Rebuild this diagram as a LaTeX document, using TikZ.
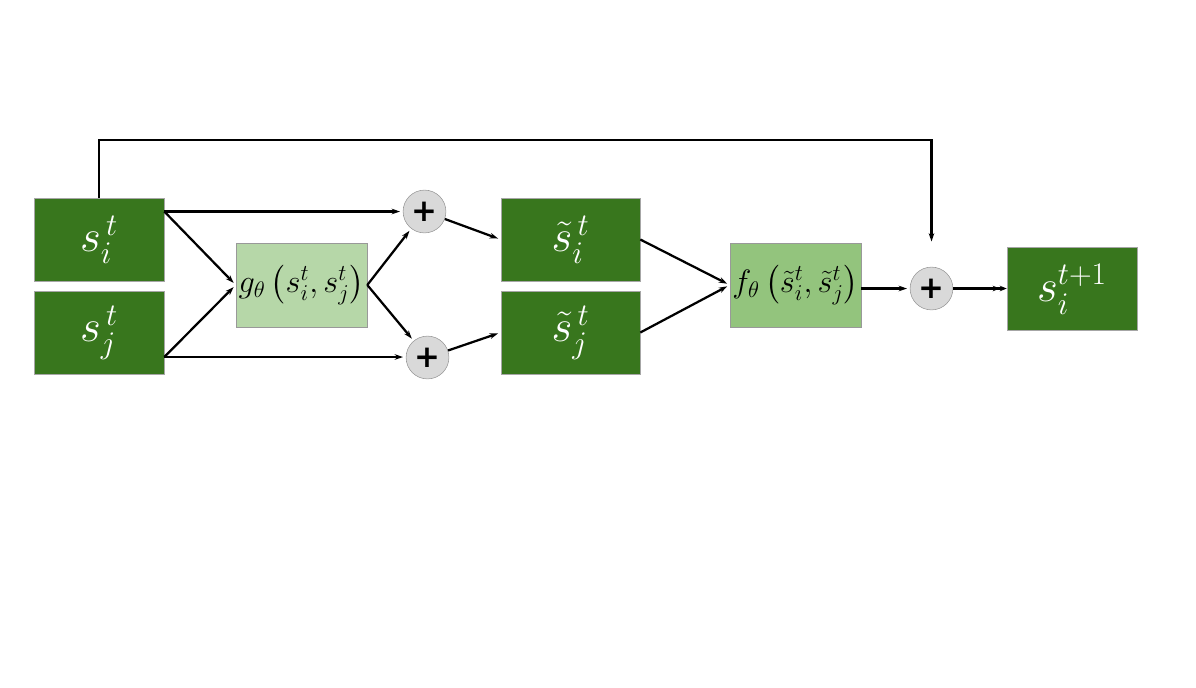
\RequirePackage{fix-cm}
\documentclass[tikz,border=0pt]{standalone}
\usepackage{amsmath,amssymb}
\usepackage{fontspec}
\newfontfamily\plusfont{DejaVu Sans}
\usepackage{tikz}
\usetikzlibrary{arrows.meta,positioning,calc}
\definecolor{stategreen}{HTML}{38761D}
\definecolor{gboxgreen}{HTML}{B6D7A8}
\definecolor{fboxgreen}{HTML}{93C47D}
\definecolor{sumgray}{HTML}{D9D9D9}

\begin{document}
\begin{tikzpicture}[
  x=0.025cm, y=-0.025cm,
  statebox/.style={draw=gray!70, fill=stategreen, text=white, minimum width=3.25cm, minimum height=2.075cm, inner sep=0pt, font=\fontsize{32}{36}\selectfont},
  netbox/.style={draw=gray!80, minimum width=3.275cm, minimum height=2.1cm, inner sep=0pt, font=\fontsize{23}{26}\selectfont},
  sumnode/.style={circle, draw=gray!80, fill=sumgray, minimum size=1.07cm, inner sep=0pt, font=\fontsize{22}{24}\selectfont\plusfont\bfseries},
  arr/.style={-{Stealth[length=6pt,width=4pt]}, line width=1.6pt, shorten >=2pt},
  dblarr/.style={-{Stealth[length=5pt,width=4pt]Stealth[length=5pt,width=4pt]}, line width=1.6pt}
]
\useasboundingbox (0,0) rectangle (1196,687);

% Inputs
\node[statebox] (si) at (99,239.5) {$s_i^{\,t}$};
\node[statebox] (sj) at (99,332.5) {$s_j^{\,t}$};

% Pairwise function
\node[netbox, fill=gboxgreen] (g) at (301.5,285) {$g_\theta\left(s_i^t, s_j^t\right)$};

% Sums
\node[sumnode] (p1) at (424.5,211.5) {+};
\node[sumnode] (p2) at (427.5,357.5) {+};

% Updated states
\node[statebox, minimum width=3.475cm] (tsi) at (570.5,239.5) {$\tilde{s}_i^{\,t}$};
\node[statebox, minimum width=3.475cm] (tsj) at (570.5,332.5) {$\tilde{s}_j^{\,t}$};

% Update function
\node[netbox, fill=fboxgreen] (f) at (795.5,285) {$f_\theta\left(\tilde{s}_i^t, \tilde{s}_j^t\right)$};

% Residual sum and output
\node[sumnode] (p3) at (931.5,288.5) {+};
\node[statebox] (out) at (1072,289) {$s_i^{t+1}$};

% Corner points
\coordinate (siout) at ($(si.east)+(0,-28)$);
\coordinate (sjout) at ($(sj.east)+(0,24.5)$);
\coordinate (top) at (99,140);

% Arrows
\draw[arr] (siout) -- (siout -| p1.west);
\draw[arr] (siout) -- (g.west);
\draw[arr] (sjout) -- (g.west);
\draw[arr] (sjout) -- (sjout -| p2.west);
\draw[arr] (g.east) -- (p1);
\draw[arr] (g.east) -- (p2);
\draw[arr] (p1) -- (tsi.west);
\draw[arr] (p2) -- (tsj.west);
\draw[arr] (tsi.east) -- (f.west);
\draw[arr] (tsj.east) -- (f.west);
\draw[arr] (f.east |- p3.west) -- (p3.west);
\draw[dblarr] (p3.east) -- (p3.east -| out.west);
\draw[arr, shorten >=18pt] (si.north) -- (top) -| (p3.north);

\end{tikzpicture}
\end{document}
